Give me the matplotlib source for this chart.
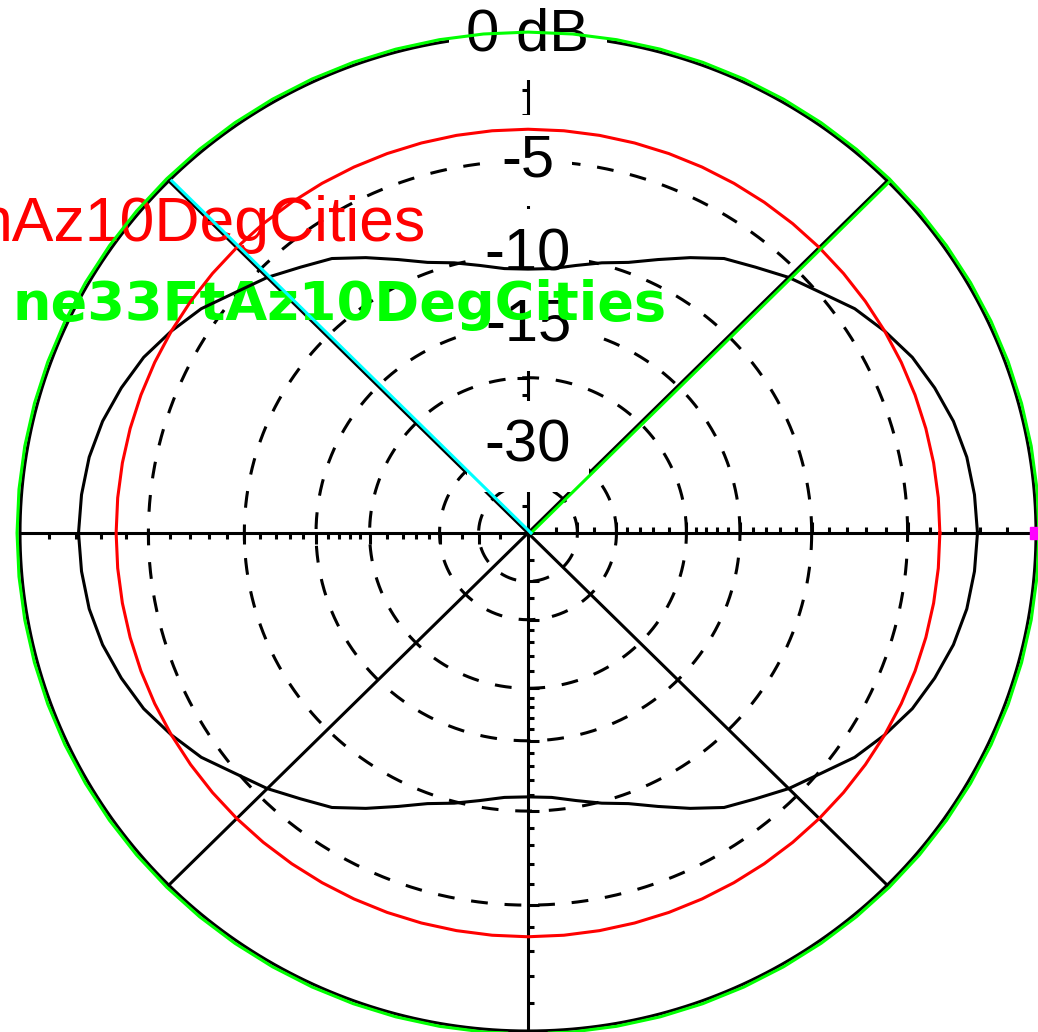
import numpy as np
import matplotlib
matplotlib.use("Agg")
import matplotlib.pyplot as plt
from matplotlib.transforms import offset_copy
from matplotlib.markers import TICKUP, TICKDOWN, TICKLEFT, TICKRIGHT

# azimuth pattern data (dB, ARRL log scale)
az5 = np.arange(0, 360, 5)
black_db = [
    -2.1, -2.15, -2.25, -2.45, -2.75, -3.1, -3.6, -4.15, -4.9,
    -5.5, -6.2, -6.8, -7.7, -8.6, -9.4, -9.9, -10.4, -10.8,
    -10.9, -10.8, -10.4, -9.9, -9.4, -8.6, -7.7, -6.8, -6.2,
    -5.5, -4.9, -4.15, -3.6, -3.1, -2.75, -2.45, -2.25, -2.15,
    -2.1, -2.15, -2.25, -2.45, -2.75, -3.1, -3.6, -4.15, -4.9,
    -5.5, -6.2, -6.8, -7.7, -8.6, -9.4, -9.9, -10.4, -10.8,
    -10.9, -10.8, -10.4, -9.9, -9.4, -8.6, -7.7, -6.8, -6.2,
    -5.5, -4.9, -4.15, -3.6, -3.1, -2.75, -2.45, -2.25, -2.15,
]
red_db = [-3.6] * 72
green_db = [0.1] * 72

red_name = "nAz10DegCities"
green_name = "ne33FtAz10DegCities"
green_cursor_az = 45
cyan_cursor_az = 135
marker_az = 0

# grid
ring_db = [-5, -10, -15, -20, -30, -40]
label_db = [0, -5, -10, -15, -30]
label_txt = ["0 dB", "-5", "-10", "-15", "-30"]
major_tick_db = [-5, -10, -15, -20, -30, -40]
minor_tick_db = [-1, -2, -3, -4, -6, -7, -8, -9, -11, -12, -13, -14,
                 -16, -17, -18, -19, -22, -24, -26, -28, -35, -50]


def arrl(db):
    return 0.89 ** (-np.asarray(db, dtype=float) / 2.0)


def closed(az, vals):
    t = np.radians(np.append(az, az[0]))
    r = arrl(np.append(vals, vals[0]))
    return t, r


W, H = 1038, 1032
fig = plt.figure(figsize=(W / 100, H / 100), dpi=100)
ax = fig.add_axes([20 / W, 1 / H, 1016 / W, 996 / H], projection="polar")
ax.set_aspect("auto")
ax.set_ylim(0, 1)
ax.axis("off")

lw = 2.2
font = ["Liberation Sans", "DejaVu Sans"]

# rings
ring = np.linspace(0, 2 * np.pi, 721)
ax.plot(ring, np.ones_like(ring), color="k", lw=lw, zorder=1, clip_on=False)
for db in ring_db:
    ax.plot(ring, np.full_like(ring, arrl(db)), color="k", lw=lw,
            ls=(0, (5.5, 5.5)), zorder=1, clip_on=False)

# axes and spokes
for ang in (0, 45, 90, 135, 180, 225, 270, 315):
    ax.plot([np.radians(ang)] * 2, [0, 1], color="k", lw=lw, zorder=1,
            clip_on=False)

# ticks along the axes
for ang, mk in ((0, TICKUP), (90, TICKLEFT), (180, TICKDOWN), (270, TICKRIGHT)):
    ax.plot(np.full(len(minor_tick_db), np.radians(ang)), arrl(minor_tick_db),
            ls="none", marker=mk, ms=4.5, mew=lw, color="k", zorder=1,
            clip_on=False)
    ax.plot(np.full(len(major_tick_db), np.radians(ang)), arrl(major_tick_db),
            ls="none", marker=mk, ms=8, mew=lw, color="k", zorder=1,
            clip_on=False)

# dB labels
for db, txt in zip(label_db, label_txt):
    ax.text(np.pi / 2, arrl(db), txt, ha="center", va="center", fontsize=43,
            family=font, zorder=2,
            bbox=dict(boxstyle="square,pad=0.3", fc="white", ec="none"))

# trace names
ax.text(426 / W, 1 - 241 / H, red_name, transform=fig.transFigure,
        ha="right", va="baseline", color="#ff0000", fontsize=45,
        family=font, zorder=3)
ax.text(667 / W, 1 - 320 / H, green_name, transform=fig.transFigure,
        ha="right", va="baseline", color="#00ff00", fontsize=39,
        family=["DejaVu Sans"], fontweight="bold", zorder=3)

# traces
t, r = closed(az5, black_db)
ax.plot(t, r, color="k", lw=lw, zorder=4, clip_on=False)
t, r = closed(az5, red_db)
ax.plot(t, r, color="#ff0000", lw=lw, zorder=4, clip_on=False)
t, r = closed(az5, green_db)
ax.plot(t, r, color="#00ff00", lw=lw, zorder=5, clip_on=False)

# cursor lines
off = offset_copy(ax.transData, fig=fig, x=3, y=0, units="dots")
ax.plot([np.radians(green_cursor_az)] * 2, [0, 1], color="#00ff00", lw=lw,
        transform=off, zorder=5, clip_on=False)
ax.plot([np.radians(cyan_cursor_az)] * 2, [0, 1], color="#00ffff", lw=lw,
        transform=off, zorder=5, clip_on=False)
ax.plot([np.radians(marker_az)], [1.0], marker="s", ms=8, color="#ff00ff",
        ls="none", zorder=6, clip_on=False)

fig.savefig("out.png", dpi=100, facecolor="white")
